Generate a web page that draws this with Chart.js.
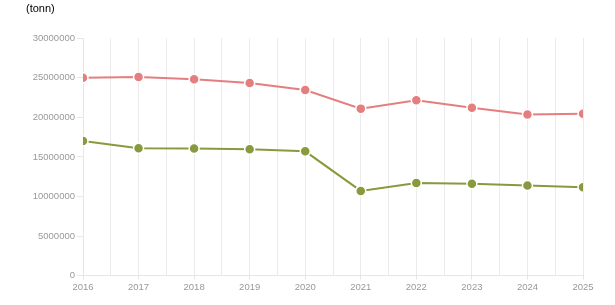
<!DOCTYPE html>
<html>
<head>
<meta charset="utf-8">
<script src="https://cdn.jsdelivr.net/npm/chart.js@4"></script>
<style>
html,body{margin:0;padding:0;background:#fff;}
#wrap{width:615px;height:305px;position:relative;}
</style>
</head>
<body>
<div id="wrap"><canvas id="c" width="615" height="305"></canvas></div>
<script>
const years = [2016, 2017, 2018, 2019, 2020, 2021, 2022, 2023, 2024, 2025];
const seriesRed = [25000000, 25100000, 24800000, 24350000, 23450000, 21100000, 22150000, 21200000, 20350000, 20450000];
const seriesGreen = [17000000, 16100000, 16050000, 15980000, 15700000, 10700000, 11700000, 11600000, 11400000, 11150000];
const yTicks = [0, 5000000, 10000000, 15000000, 20000000, 25000000, 30000000];
const unitLabel = "(tonn)";

const toPts = vals => years.map((y, i) => ({x: y, y: vals[i]}));
const FONT = "'Liberation Sans', Arial, sans-serif";

new Chart(document.getElementById('c'), {
  type: 'line',
  data: {
    datasets: [
      {
        data: toPts(seriesRed),
        borderColor: '#e57e7e',
        backgroundColor: '#e57e7e',
        borderWidth: 2,
        pointRadius: 5,
        pointBorderColor: '#ffffff',
        pointBorderWidth: 1.5,
        tension: 0
      },
      {
        data: toPts(seriesGreen),
        borderColor: '#879a3c',
        backgroundColor: '#879a3c',
        borderWidth: 2,
        pointRadius: 5,
        pointBorderColor: '#ffffff',
        pointBorderWidth: 1.5,
        tension: 0
      }
    ]
  },
  options: {
    responsive: false,
    animation: false,
    layout: {padding: {left: 26, right: 32, top: 0, bottom: 10}},
    plugins: {
      legend: {display: false},
      tooltip: {enabled: false},
      title: {
        display: true,
        text: unitLabel,
        align: 'start',
        color: '#000',
        font: {family: FONT, size: 11, weight: 'normal'},
        padding: {top: 2, bottom: 23}
      }
    },
    scales: {
      x: {
        type: 'linear',
        min: years[0],
        max: years[years.length - 1],
        border: {color: '#e6e6e6', width: 1},
        grid: {
          color: '#ebebeb',
          lineWidth: 1,
          tickLength: 4,
          tickColor: ctx => (ctx.tick && Number.isInteger(ctx.tick.value)) ? '#e6e6e6' : 'rgba(0,0,0,0)'
        },
        ticks: {
          stepSize: 0.5,
          autoSkip: false,
          maxRotation: 0,
          padding: 2,
          color: '#999',
          font: {family: FONT, size: 9.5},
          callback: v => Number.isInteger(v) ? String(v) : ''
        }
      },
      y: {
        min: yTicks[0],
        max: yTicks[yTicks.length - 1],
        afterFit: s => { s.width = 57; },
        border: {color: '#e6e6e6', width: 1},
        grid: {drawOnChartArea: false, tickLength: 6, color: '#e6e6e6'},
        afterBuildTicks: s => { s.ticks = yTicks.map(v => ({value: v})); },
        ticks: {
          padding: 2,
          color: '#999',
          font: {family: FONT, size: 9.5},
          callback: v => String(v)
        }
      }
    }
  }
});
</script>
</body>
</html>
